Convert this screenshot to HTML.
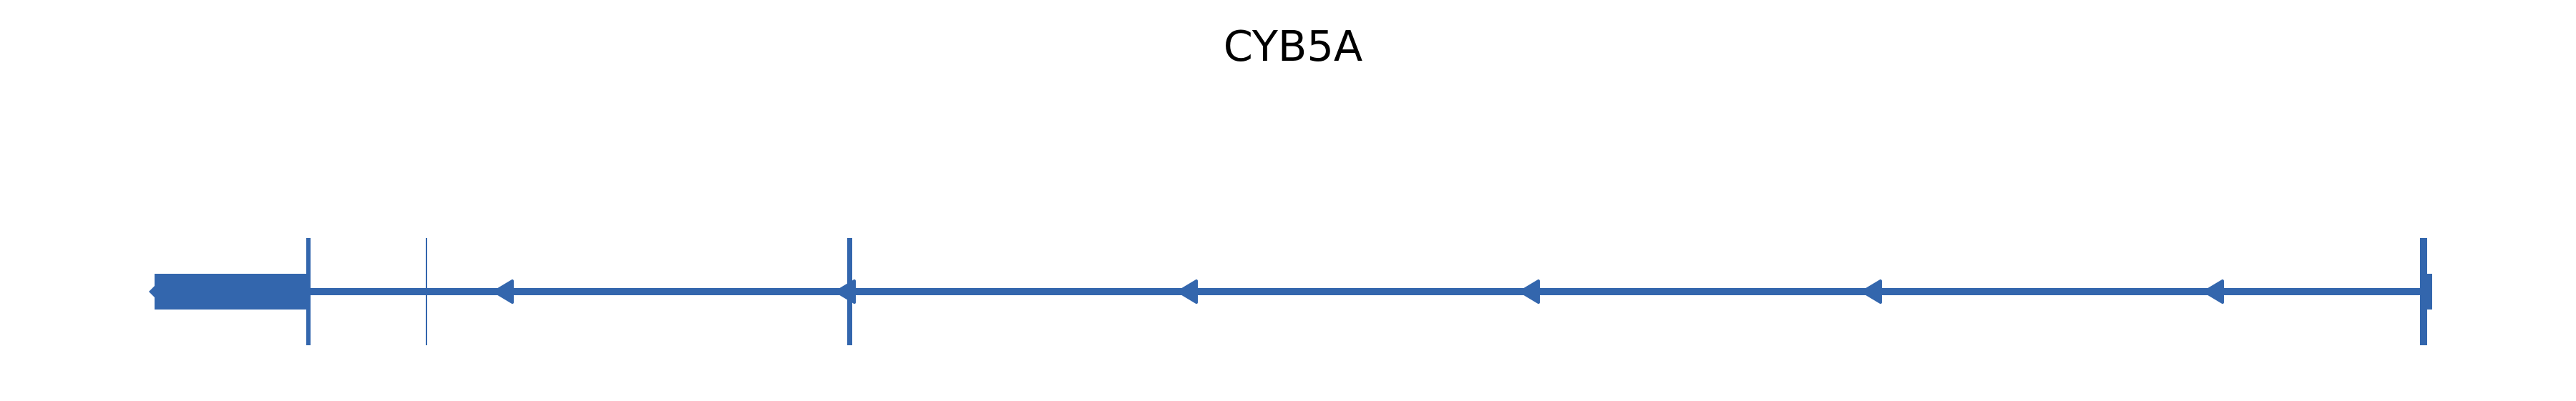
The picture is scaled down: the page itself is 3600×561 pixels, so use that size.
<!DOCTYPE html>
<html><head><meta charset="utf-8"><style>
html,body{margin:0;padding:0;background:#fff;width:3600px;height:561px;overflow:hidden}
</style></head><body>
<svg width="3600" height="561" xmlns="http://www.w3.org/2000/svg">
<text x="1807" y="85" font-family="DejaVu Sans, Liberation Sans, sans-serif" font-size="59" text-anchor="middle" fill="#000">CYB5A</text>
<g fill="#3366ad" stroke="none">
<rect x="214" y="403" width="3168" height="10"/>
<rect x="216" y="383" width="214" height="50"/>
<rect x="428" y="333" width="6" height="150"/>
<rect x="595" y="333" width="2" height="150"/>
<rect x="1184" y="333" width="7" height="150"/>
<rect x="3382" y="333" width="10" height="150"/>
<rect x="3390" y="383" width="9" height="50"/>
<path d="M208 408 L216 400 L216 416 Z"/>
</g>
<g fill="#3366ad" stroke="#3366ad" stroke-width="4" stroke-linejoin="round">
<path d="M691 408 L716 393 L716 423 Z"/>
<path d="M1169 408 L1194 393 L1194 423 Z"/>
<path d="M1647 408 L1672 393 L1672 423 Z"/>
<path d="M2125 408 L2150 393 L2150 423 Z"/>
<path d="M2603 408 L2628 393 L2628 423 Z"/>
<path d="M3081 408 L3106 393 L3106 423 Z"/>
</g>
</svg>
</body></html>
